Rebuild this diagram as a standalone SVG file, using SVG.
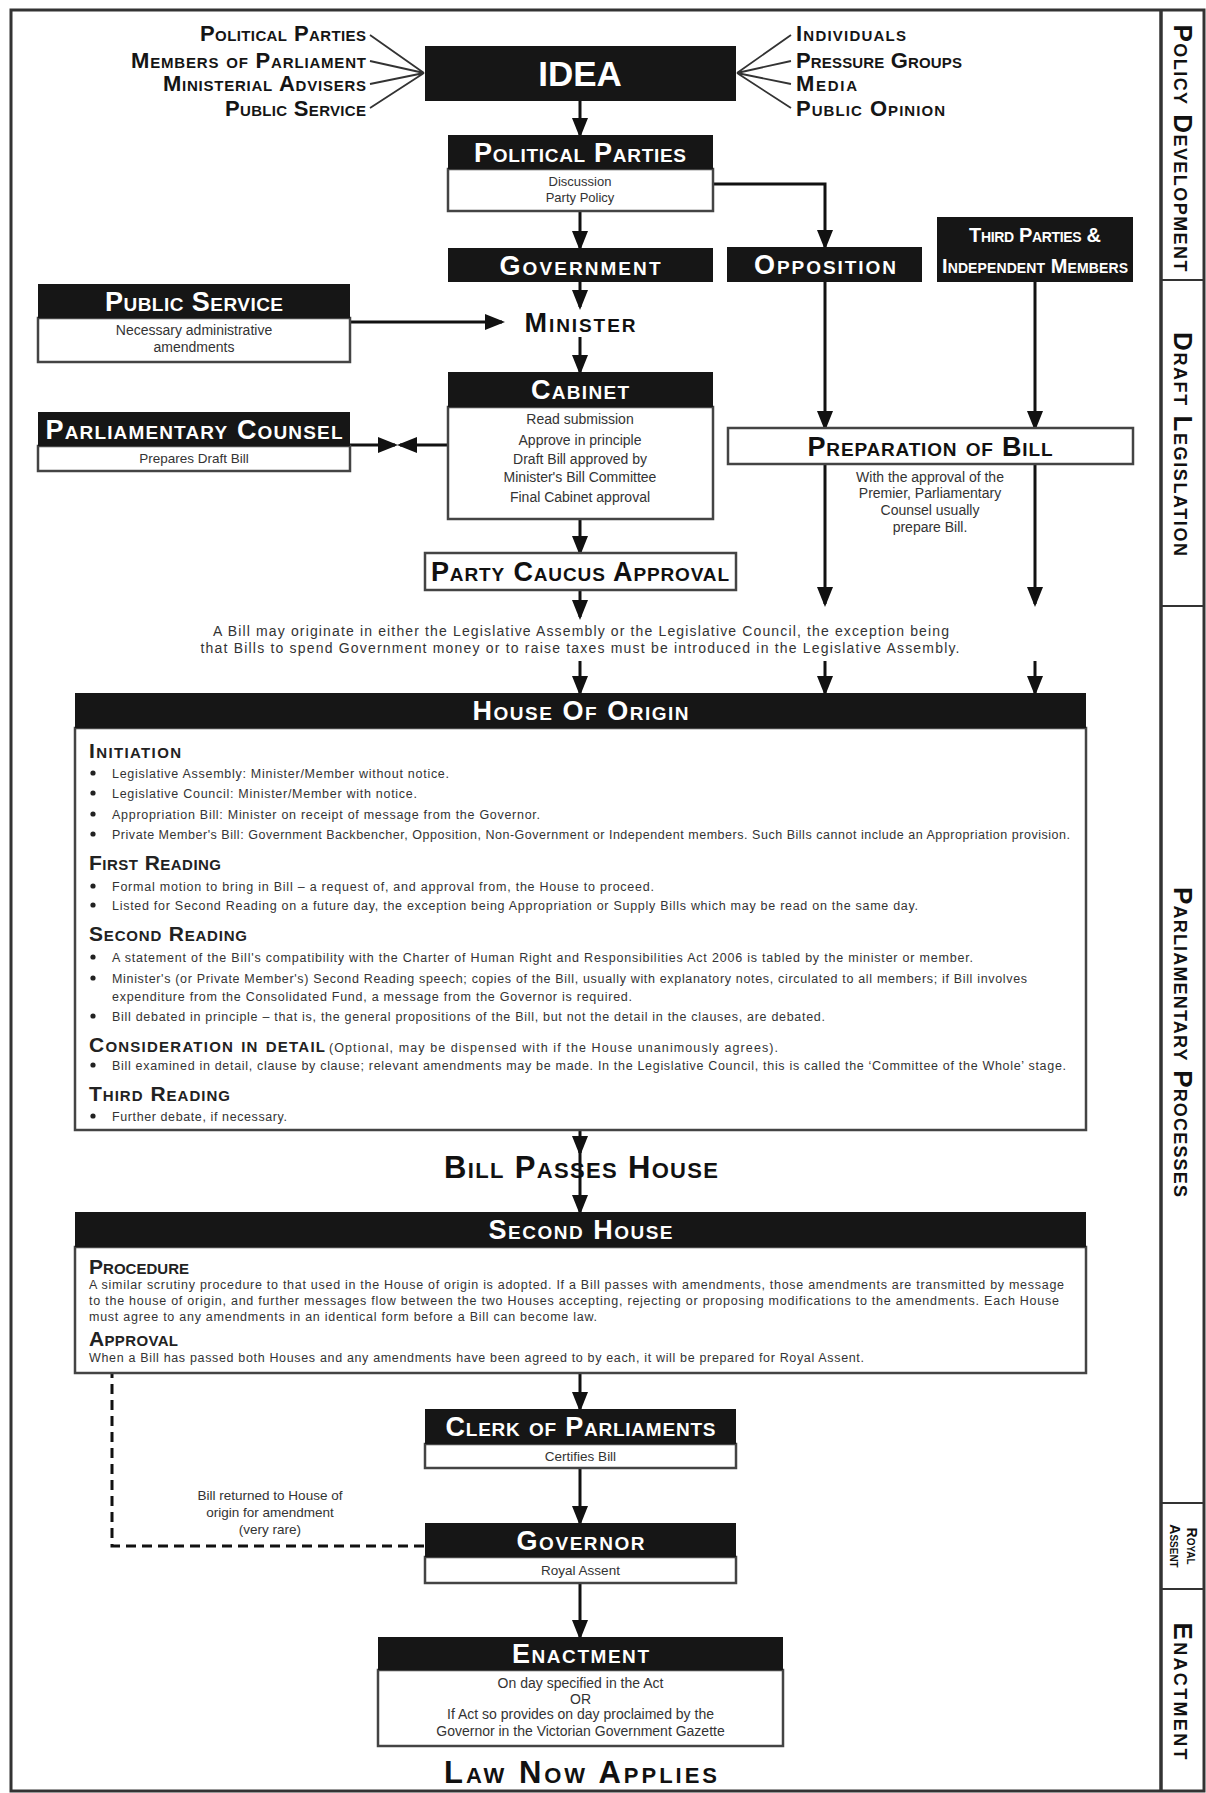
<svg xmlns="http://www.w3.org/2000/svg" width="1206" height="1793" viewBox="0 0 1206 1793">
<style>
text{font-family:"Liberation Sans",Arial,sans-serif}
.hdr{fill:#161616}
.bx{fill:#fff;stroke:#444;stroke-width:2.5}
.ht{font-weight:bold;font-variant:small-caps;fill:#fff;font-size:27px;text-anchor:middle}
.bk{font-weight:bold;font-variant:small-caps;fill:#111;font-size:27px;text-anchor:middle}
.lb{font-weight:bold;font-variant:small-caps;fill:#151515;font-size:22px}
.sm{font-size:14px;fill:#333;text-anchor:middle}
.bt{font-size:12.5px;fill:#333}
.h2{font-weight:bold;font-variant:small-caps;fill:#222;font-size:21px}
.side{font-weight:bold;font-variant:small-caps;fill:#111;font-size:26px;text-anchor:middle}
.cn{stroke:#111;stroke-width:3;fill:none}
.fan{stroke:#333;stroke-width:1.8;fill:none}
.dash{stroke:#111;stroke-width:3;fill:none;stroke-dasharray:10 6}
.dot{fill:#222}
</style>
<defs>
<marker id="ah" markerUnits="userSpaceOnUse" markerWidth="20" markerHeight="16" viewBox="0 0 20 16" refX="17" refY="8" orient="auto">
<path d="M0,0 L20,8 L0,16 z" fill="#111"/>
</marker>
</defs>

<!-- frame -->
<g id="frame">
<rect x="11" y="10" width="1193" height="1781" fill="none" stroke="#333" stroke-width="3"/>
<line x1="1161" y1="10" x2="1161" y2="1791" stroke="#333" stroke-width="3.5"/>
<line x1="1161" y1="280" x2="1204" y2="280" stroke="#333" stroke-width="2"/>
<line x1="1161" y1="606" x2="1204" y2="606" stroke="#333" stroke-width="2"/>
<line x1="1161" y1="1503" x2="1204" y2="1503" stroke="#333" stroke-width="2"/>
<line x1="1161" y1="1589" x2="1204" y2="1589" stroke="#333" stroke-width="2"/>
<text class="side" transform="translate(1174,148) rotate(90)" textLength="247">Policy Development</text>
<text class="side" transform="translate(1174,444) rotate(90)" textLength="224">Draft Legislation</text>
<text class="side" transform="translate(1174,1042) rotate(90)" textLength="310">Parliamentary Processes</text>
<text class="side" transform="translate(1187,1546) rotate(90)" style="font-size:14px">Royal</text>
<text class="side" transform="translate(1170,1546) rotate(90)" style="font-size:14px">Assent</text>
<text class="side" transform="translate(1174,1691) rotate(90)" textLength="137">Enactment</text>
</g>

<!-- connectors -->
<g id="connectors">
<path class="fan" d="M370,35 L424,73 M370,61 L424,73 M370,84 L424,73 M370,108 L424,73"/>
<path class="fan" d="M737,73 L791,35 M737,73 L791,61 M737,73 L791,84 M737,73 L791,108"/>
<path class="cn" d="M580,101 V135" marker-end="url(#ah)"/>
<path class="cn" d="M580,211 V248" marker-end="url(#ah)"/>
<path class="cn" d="M713,184 H825 V247" marker-end="url(#ah)"/>
<path class="cn" d="M580,282 V307" marker-end="url(#ah)"/>
<path class="cn" d="M350,322 H502" marker-end="url(#ah)"/>
<path class="cn" d="M580,337 V372" marker-end="url(#ah)"/>
<path class="cn" d="M350,445 H395" marker-end="url(#ah)"/>
<path class="cn" d="M448,445 H400" marker-end="url(#ah)"/>
<path class="cn" d="M580,519 V553" marker-end="url(#ah)"/>
<path class="cn" d="M825,282 V428" marker-end="url(#ah)"/>
<path class="cn" d="M1035,282 V428" marker-end="url(#ah)"/>
<path class="cn" d="M825,464 V604" marker-end="url(#ah)"/>
<path class="cn" d="M1035,464 V604" marker-end="url(#ah)"/>
<path class="cn" d="M580,590 V617" marker-end="url(#ah)"/>
<path class="cn" d="M580,661 V693" marker-end="url(#ah)"/>
<path class="cn" d="M825,661 V693" marker-end="url(#ah)"/>
<path class="cn" d="M1035,661 V693" marker-end="url(#ah)"/>
<path class="cn" d="M580,1130 V1153" marker-end="url(#ah)"/>
<path class="cn" d="M580,1150 V1212" marker-end="url(#ah)"/>
<path class="cn" d="M580,1373 V1409" marker-end="url(#ah)"/>
<path class="cn" d="M580,1468 V1523" marker-end="url(#ah)"/>
<path class="cn" d="M580,1583 V1637" marker-end="url(#ah)"/>
<path class="dash" d="M424,1546 H112 V1374"/>
</g>

<!-- sources -->
<g id="sources-left">
<text class="lb" x="366" y="41" text-anchor="end" textLength="166">Political Parties</text>
<text class="lb" x="366" y="68" text-anchor="end" textLength="235">Members of Parliament</text>
<text class="lb" x="366" y="91" text-anchor="end" textLength="203">Ministerial Advisers</text>
<text class="lb" x="366" y="116" text-anchor="end" textLength="141">Public Service</text>
</g>
<g id="sources-right">
<text class="lb" x="796" y="41" textLength="110">Individuals</text>
<text class="lb" x="796" y="68" textLength="166">Pressure Groups</text>
<text class="lb" x="796" y="91" textLength="61">Media</text>
<text class="lb" x="796" y="116" textLength="149">Public Opinion</text>
</g>

<g id="idea">
<rect class="hdr" x="425" y="46" width="311" height="55"/>
<text x="580" y="86" style="font-size:35px;font-weight:bold;fill:#fff;text-anchor:middle">IDEA</text>
</g>

<g id="political-parties">
<rect class="bx" x="448" y="169" width="265" height="42"/>
<rect class="hdr" x="448" y="135" width="265" height="34"/>
<text class="ht" x="580" y="161.5" textLength="212">Political Parties</text>
<text class="sm" x="580" y="186" style="font-size:13px">Discussion</text>
<text class="sm" x="580" y="202" style="font-size:13px">Party Policy</text>
</g>

<g id="government">
<rect class="hdr" x="448" y="248" width="265" height="34"/>
<text class="ht" x="580" y="274.5" textLength="161">Government</text>
</g>

<g id="opposition">
<rect class="hdr" x="727" y="247" width="195" height="35"/>
<text class="ht" x="825" y="274" textLength="142">Opposition</text>
</g>

<g id="third-parties">
<rect class="hdr" x="937" y="217" width="196" height="65"/>
<text class="ht" x="1035" y="242" style="font-size:20px" textLength="132">Third Parties &amp;</text>
<text class="ht" x="1035" y="273" style="font-size:20px" textLength="186">Independent Members</text>
</g>

<g id="minister">
<text class="bk" x="580" y="332" textLength="111">Minister</text>
</g>

<g id="public-service">
<rect class="bx" x="38" y="318" width="312" height="44"/>
<rect class="hdr" x="38" y="284" width="312" height="34"/>
<text class="ht" x="194" y="310.5" textLength="178">Public Service</text>
<text class="sm" x="194" y="335">Necessary administrative</text>
<text class="sm" x="194" y="352">amendments</text>
</g>

<g id="cabinet">
<rect class="bx" x="448" y="407" width="265" height="112"/>
<rect class="hdr" x="448" y="372" width="265" height="35"/>
<text class="ht" x="580" y="399" textLength="98">Cabinet</text>
<text class="sm" x="580" y="424">Read submission</text>
<text class="sm" x="580" y="445">Approve in principle</text>
<text class="sm" x="580" y="464">Draft Bill approved by</text>
<text class="sm" x="580" y="482">Minister's Bill Committee</text>
<text class="sm" x="580" y="502">Final Cabinet approval</text>
</g>

<g id="parliamentary-counsel">
<rect class="bx" x="38" y="446" width="312" height="25"/>
<rect class="hdr" x="38" y="412" width="312" height="34"/>
<text class="ht" x="194" y="438.5" textLength="297">Parliamentary Counsel</text>
<text class="sm" x="194" y="463" style="font-size:13.5px">Prepares Draft Bill</text>
</g>

<g id="party-caucus">
<rect class="bx" x="425" y="553" width="311" height="37"/>
<text class="bk" x="580" y="581" textLength="298">Party Caucus Approval</text>
</g>

<g id="preparation-of-bill">
<rect class="bx" x="728" y="428" width="405" height="36"/>
<text class="bk" x="930" y="456" textLength="245">Preparation of Bill</text>
<text class="sm" x="930" y="482">With the approval of the</text>
<text class="sm" x="930" y="498">Premier, Parliamentary</text>
<text class="sm" x="930" y="515">Counsel usually</text>
<text class="sm" x="930" y="532">prepare Bill.</text>
</g>

<g id="origin-note">
<text class="sm" x="581" y="636" textLength="736">A Bill may originate in either the Legislative Assembly or the Legislative Council, the exception being</text>
<text class="sm" x="580" y="653" textLength="759">that Bills to spend Government money or to raise taxes must be introduced in the Legislative Assembly.</text>
</g>

<g id="house-of-origin">
<rect class="bx" x="75" y="728" width="1011" height="402"/>
<rect class="hdr" x="75" y="693" width="1011" height="35"/>
<text class="ht" x="580.5" y="720" textLength="216">House Of Origin</text>
<text class="h2" x="89" y="757.5" textLength="92">Initiation</text>
<circle class="dot" cx="93" cy="773" r="2.6"/>
<text class="bt" x="112" y="777.5" textLength="337">Legislative Assembly: Minister/Member without notice.</text>
<circle class="dot" cx="93" cy="793" r="2.6"/>
<text class="bt" x="112" y="797.5" textLength="305">Legislative Council: Minister/Member with notice.</text>
<circle class="dot" cx="93" cy="814" r="2.6"/>
<text class="bt" x="112" y="818.5" textLength="428">Appropriation Bill: Minister on receipt of message from the Governor.</text>
<circle class="dot" cx="93" cy="834" r="2.6"/>
<text class="bt" x="112" y="838.5" textLength="958">Private Member's Bill: Government Backbencher, Opposition, Non-Government or Independent members. Such Bills cannot include an Appropriation provision.</text>
<text class="h2" x="89" y="869.5" textLength="132">First Reading</text>
<circle class="dot" cx="93" cy="886" r="2.6"/>
<text class="bt" x="112" y="890.5" textLength="542">Formal motion to bring in Bill – a request of, and approval from, the House to proceed.</text>
<circle class="dot" cx="93" cy="905" r="2.6"/>
<text class="bt" x="112" y="909.5" textLength="806">Listed for Second Reading on a future day, the exception being Appropriation or Supply Bills which may be read on the same day.</text>
<text class="h2" x="89" y="940.5" textLength="158">Second Reading</text>
<circle class="dot" cx="93" cy="957" r="2.6"/>
<text class="bt" x="112" y="961.5" textLength="861">A statement of the Bill's compatibility with the Charter of Human Right and Responsibilities Act 2006 is tabled by the minister or member.</text>
<circle class="dot" cx="93" cy="978" r="2.6"/>
<text class="bt" x="112" y="982.5" textLength="915">Minister's (or Private Member's) Second Reading speech; copies of the Bill, usually with explanatory notes, circulated to all members; if Bill involves</text>
<text class="bt" x="112" y="1000.5" textLength="520">expenditure from the Consolidated Fund, a message from the Governor is required.</text>
<circle class="dot" cx="93" cy="1016" r="2.6"/>
<text class="bt" x="112" y="1020.5" textLength="713">Bill debated in principle – that is, the general propositions of the Bill, but not the detail in the clauses, are debated.</text>
<text class="h2" x="89" y="1051.5" textLength="236">Consideration in detail</text>
<text class="bt" x="329" y="1051.5" textLength="449">(Optional, may be dispensed with if the House unanimously agrees).</text>
<circle class="dot" cx="93" cy="1065" r="2.6"/>
<text class="bt" x="112" y="1069.5" textLength="954">Bill examined in detail, clause by clause; relevant amendments may be made. In the Legislative Council, this is called the ‘Committee of the Whole’ stage.</text>
<text class="h2" x="89" y="1100.5" textLength="141">Third Reading</text>
<circle class="dot" cx="93" cy="1116" r="2.6"/>
<text class="bt" x="112" y="1120.5" textLength="175">Further debate, if necessary.</text>
</g>

<g id="bill-passes-house">
<text class="bk" x="581" y="1178" style="font-size:31px" textLength="274">Bill Passes House</text>
</g>

<g id="second-house">
<rect class="bx" x="75" y="1247" width="1011" height="126"/>
<rect class="hdr" x="75" y="1212" width="1011" height="35"/>
<text class="ht" x="580.5" y="1239" textLength="184">Second House</text>
<text class="h2" x="89" y="1273.5" textLength="100">Procedure</text>
<text class="bt" x="89" y="1288.5" textLength="975">A similar scrutiny procedure to that used in the House of origin is adopted. If a Bill passes with amendments, those amendments are transmitted by message</text>
<text class="bt" x="89" y="1304.5" textLength="970">to the house of origin, and further messages flow between the two Houses accepting, rejecting or proposing modifications to the amendments. Each House</text>
<text class="bt" x="89" y="1320.5" textLength="508">must agree to any amendments in an identical form before a Bill can become law.</text>
<text class="h2" x="89" y="1345.5" textLength="89">Approval</text>
<text class="bt" x="89" y="1361.5" textLength="775">When a Bill has passed both Houses and any amendments have been agreed to by each, it will be prepared for Royal Assent.</text>
</g>

<g id="clerk-of-parliaments">
<rect class="bx" x="425" y="1444" width="311" height="24"/>
<rect class="hdr" x="425" y="1409" width="311" height="35"/>
<text class="ht" x="580.5" y="1436" textLength="270">Clerk of Parliaments</text>
<text class="sm" x="580.5" y="1461" style="font-size:13.5px">Certifies Bill</text>
</g>

<g id="returned-note">
<text class="sm" x="270" y="1500" style="font-size:13.5px">Bill returned to House of</text>
<text class="sm" x="270" y="1517" style="font-size:13.5px">origin for amendment</text>
<text class="sm" x="270" y="1534" style="font-size:13.5px">(very rare)</text>
</g>

<g id="governor">
<rect class="bx" x="425" y="1557" width="311" height="26"/>
<rect class="hdr" x="425" y="1523" width="311" height="34"/>
<text class="ht" x="580.5" y="1549.5" textLength="128">Governor</text>
<text class="sm" x="580.5" y="1575" style="font-size:13.5px">Royal Assent</text>
</g>

<g id="enactment">
<rect class="bx" x="378" y="1670" width="405" height="76"/>
<rect class="hdr" x="378" y="1637" width="405" height="33"/>
<text class="ht" x="580.5" y="1663" textLength="137">Enactment</text>
<text class="sm" x="580.5" y="1688">On day specified in the Act</text>
<text class="sm" x="580.5" y="1704">OR</text>
<text class="sm" x="580.5" y="1719">If Act so provides on day proclaimed by the</text>
<text class="sm" x="580.5" y="1736">Governor in the Victorian Government Gazette</text>
</g>

<g id="law-now-applies">
<text class="bk" x="580.5" y="1783" style="font-size:31px" textLength="273">Law Now Applies</text>
</g>
</svg>
